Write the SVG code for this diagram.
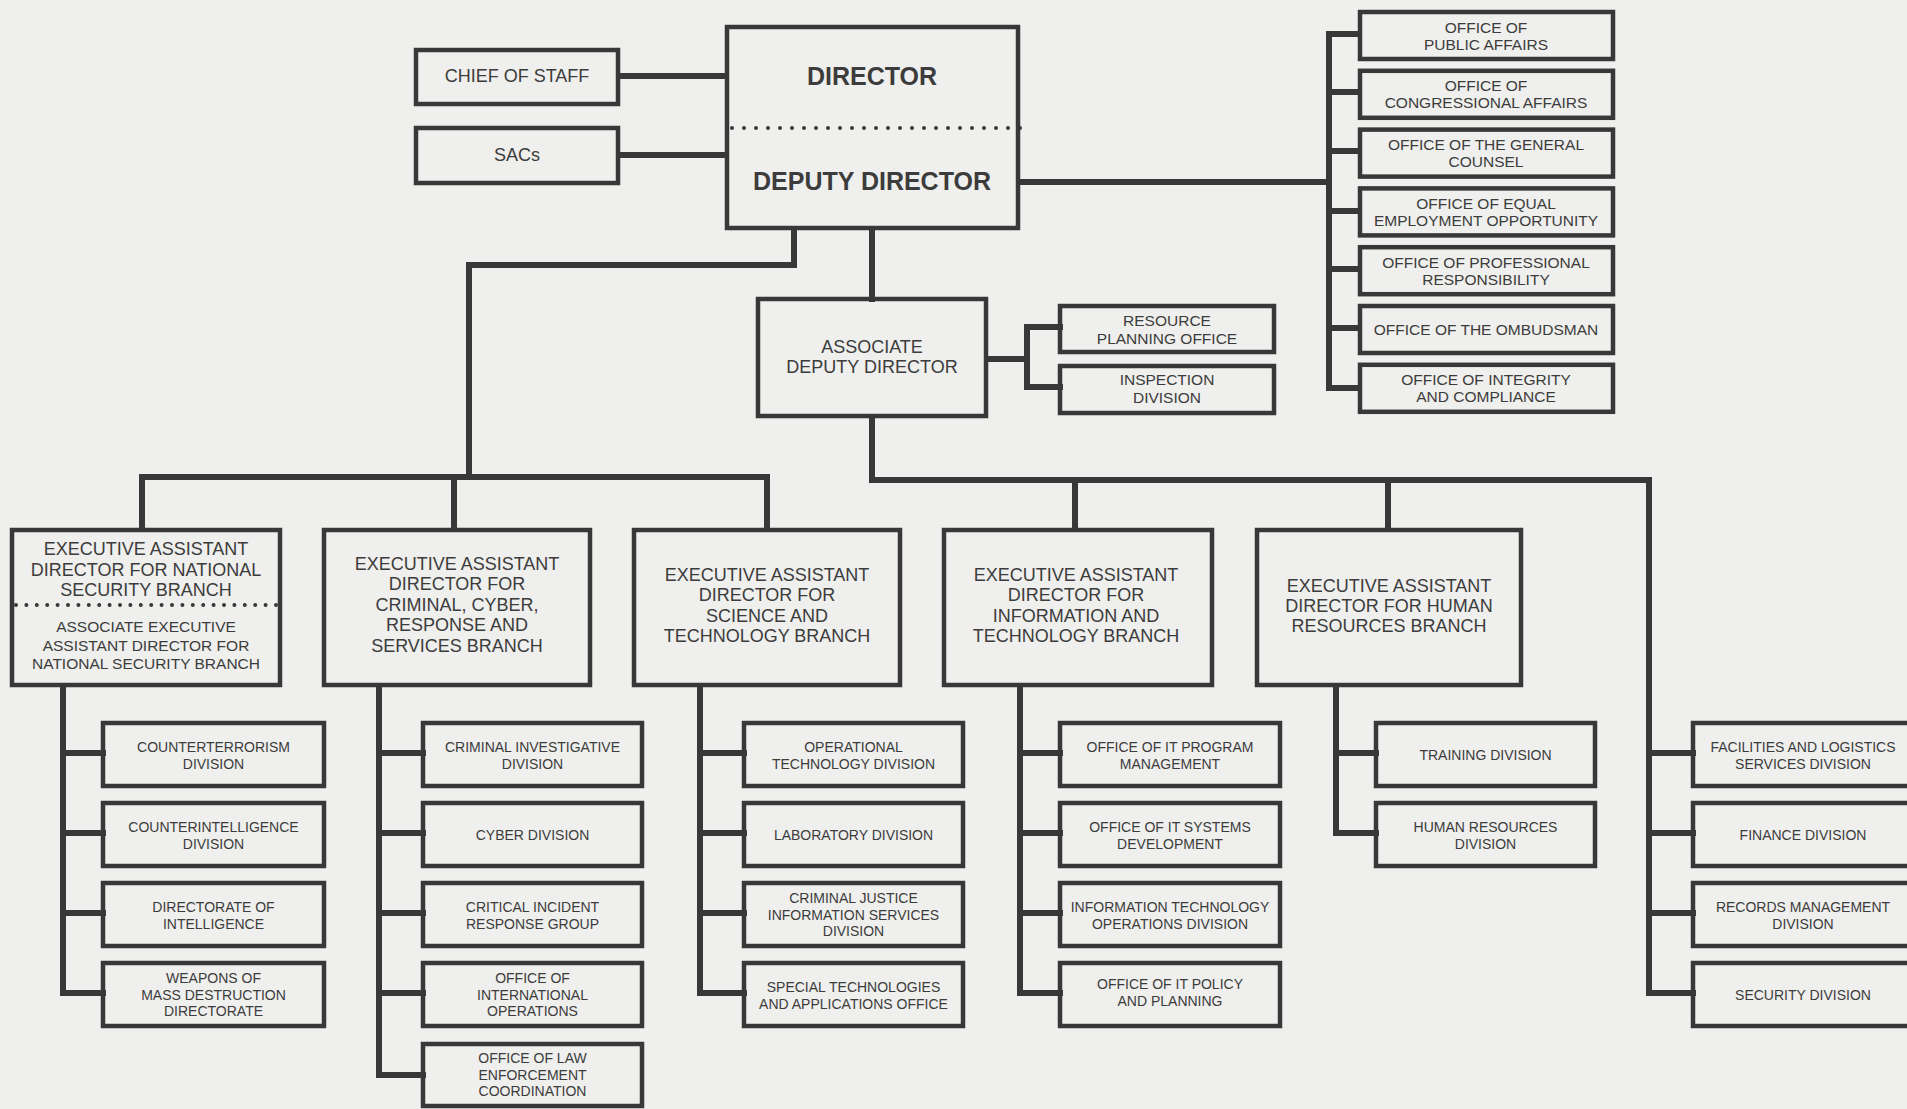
<svg xmlns="http://www.w3.org/2000/svg" width="1907" height="1109" viewBox="0 0 1907 1109">
<style>
.bg{fill:#efefed}
.box{fill:none;stroke:#383838;stroke-width:4.5}
.ln{fill:none;stroke:#383838;stroke-width:6;stroke-linejoin:miter;stroke-linecap:square}
.dots{fill:none;stroke:#383838;stroke-width:4;stroke-linecap:round}
text{font-family:"Liberation Sans",Arial,Helvetica,sans-serif;fill:#3c3c3c;text-anchor:middle}
.t18{font-size:18px}
.t15{font-size:15.5px}
.t14{font-size:14px}
.tb{font-size:25px;font-weight:bold}
</style>
<rect class="bg" x="0" y="0" width="1907" height="1109"/>

<g id="connectors">
  <path class="ln" d="M620 76 H725"/>
  <path class="ln" d="M620 155 H725"/>
  <path class="ln" d="M1020 182 H1329"/>
  <path class="ln" d="M1358 34 H1329 V388 H1358"/>
  <path class="ln" d="M1329 92 H1358 M1329 151 H1358 M1329 211 H1358 M1329 269 H1358 M1329 328 H1358"/>
  <path class="ln" d="M794 230 V265 H469 V477"/>
  <path class="ln" d="M142 528 V477 H767 V528"/>
  <path class="ln" d="M454 477 V528"/>
  <path class="ln" d="M872 230 V299"/>
  <path class="ln" d="M988 359 H1027"/>
  <path class="ln" d="M1060 327 H1027 V387 H1060"/>
  <path class="ln" d="M872 418 V480 H1649 V993 H1693"/>
  <path class="ln" d="M1075 480 V528 M1388 480 V528"/>
  <path class="ln" d="M1649 753 H1693 M1649 833 H1693 M1649 913 H1693"/>
  <path class="ln" d="M63 687 V993 H103 M63 753 H103 M63 833 H103 M63 913 H103"/>
  <path class="ln" d="M379 687 V1075 H423 M379 753 H423 M379 833 H423 M379 913 H423 M379 993 H423"/>
  <path class="ln" d="M700 687 V993 H744 M700 753 H744 M700 833 H744 M700 913 H744"/>
  <path class="ln" d="M1020 687 V993 H1060 M1020 753 H1060 M1020 833 H1060 M1020 913 H1060"/>
  <path class="ln" d="M1336 687 V833 H1376 M1336 753 H1376"/>
</g>

<g id="chief-of-staff"><rect class="box" x="416" y="50" width="202" height="54"/><text class="t18" x="517" y="82">CHIEF OF STAFF</text></g>
<g id="sacs"><rect class="box" x="416" y="128" width="202" height="55"/><text class="t18" x="517" y="161">SACs</text></g>
<g id="director"><rect class="box" x="727" y="27" width="291" height="201"/>
  <line class="dots" x1="732" y1="128" x2="1022" y2="128" stroke-dasharray="0 12"/>
  <text class="tb" x="872" y="85">DIRECTOR</text>
  <text class="tb" x="872" y="190">DEPUTY DIRECTOR</text></g>

<g id="office-public-affairs"><rect class="box" x="1360" y="12" width="253" height="47"/><text class="t15" x="1486" y="32.5">OFFICE OF</text><text class="t15" x="1486" y="49.5">PUBLIC AFFAIRS</text></g>
<g id="office-congressional-affairs"><rect class="box" x="1360" y="70.8" width="253" height="47"/><text class="t15" x="1486" y="91.3">OFFICE OF</text><text class="t15" x="1486" y="108.3">CONGRESSIONAL AFFAIRS</text></g>
<g id="office-general-counsel"><rect class="box" x="1360" y="129.6" width="253" height="47"/><text class="t15" x="1486" y="150.1">OFFICE OF THE GENERAL</text><text class="t15" x="1486" y="167.1">COUNSEL</text></g>
<g id="office-eeo"><rect class="box" x="1360" y="188.4" width="253" height="47"/><text class="t15" x="1486" y="208.9">OFFICE OF EQUAL</text><text class="t15" x="1486" y="225.9">EMPLOYMENT OPPORTUNITY</text></g>
<g id="office-professional-responsibility"><rect class="box" x="1360" y="247.2" width="253" height="47"/><text class="t15" x="1486" y="267.7">OFFICE OF PROFESSIONAL</text><text class="t15" x="1486" y="284.7">RESPONSIBILITY</text></g>
<g id="office-ombudsman"><rect class="box" x="1360" y="306" width="253" height="47"/><text class="t15" x="1486" y="335">OFFICE OF THE OMBUDSMAN</text></g>
<g id="office-integrity-compliance"><rect class="box" x="1360" y="364.8" width="253" height="47"/><text class="t15" x="1486" y="385.3">OFFICE OF INTEGRITY</text><text class="t15" x="1486" y="402.3">AND COMPLIANCE</text></g>

<g id="associate-deputy-director"><rect class="box" x="758" y="299" width="228" height="117"/><text class="t18" x="872" y="353">ASSOCIATE</text><text class="t18" x="872" y="373">DEPUTY DIRECTOR</text></g>
<g id="resource-planning-office"><rect class="box" x="1060" y="306" width="214" height="46"/><text class="t15" x="1167" y="326">RESOURCE</text><text class="t15" x="1167" y="344">PLANNING OFFICE</text></g>
<g id="inspection-division"><rect class="box" x="1060" y="366" width="214" height="47"/><text class="t15" x="1167" y="385">INSPECTION</text><text class="t15" x="1167" y="403">DIVISION</text></g>

<g id="ead-national-security"><rect class="box" x="12" y="530" width="268" height="155"/>
  <text class="t18" x="146" y="555">EXECUTIVE ASSISTANT</text><text class="t18" x="146" y="575.5">DIRECTOR FOR NATIONAL</text><text class="t18" x="146" y="596">SECURITY BRANCH</text>
  <line class="dots" x1="16" y1="605" x2="276" y2="605" stroke-dasharray="0 10.4"/>
  <text class="t15" x="146" y="632">ASSOCIATE EXECUTIVE</text><text class="t15" x="146" y="650.5">ASSISTANT DIRECTOR FOR</text><text class="t15" x="146" y="669">NATIONAL SECURITY BRANCH</text></g>
<g id="ead-criminal-cyber"><rect class="box" x="324" y="530" width="266" height="155"/>
  <text class="t18" x="457" y="569.5">EXECUTIVE ASSISTANT</text><text class="t18" x="457" y="590">DIRECTOR FOR</text><text class="t18" x="457" y="610.5">CRIMINAL, CYBER,</text><text class="t18" x="457" y="631">RESPONSE AND</text><text class="t18" x="457" y="652">SERVICES BRANCH</text></g>
<g id="ead-science-technology"><rect class="box" x="634" y="530" width="266" height="155"/>
  <text class="t18" x="767" y="580.5">EXECUTIVE ASSISTANT</text><text class="t18" x="767" y="601">DIRECTOR FOR</text><text class="t18" x="767" y="621.5">SCIENCE AND</text><text class="t18" x="767" y="642">TECHNOLOGY BRANCH</text></g>
<g id="ead-information-technology"><rect class="box" x="944" y="530" width="268" height="155"/>
  <text class="t18" x="1076" y="580.5">EXECUTIVE ASSISTANT</text><text class="t18" x="1076" y="601">DIRECTOR FOR</text><text class="t18" x="1076" y="621.5">INFORMATION AND</text><text class="t18" x="1076" y="642">TECHNOLOGY BRANCH</text></g>
<g id="ead-human-resources"><rect class="box" x="1257" y="530" width="264" height="155"/>
  <text class="t18" x="1389" y="591.5">EXECUTIVE ASSISTANT</text><text class="t18" x="1389" y="611.5">DIRECTOR FOR HUMAN</text><text class="t18" x="1389" y="631.5">RESOURCES BRANCH</text></g>

<g id="counterterrorism-division"><rect class="box" x="103" y="723" width="221" height="63"/><text class="t14" x="213.5" y="752">COUNTERTERRORISM</text><text class="t14" x="213.5" y="768.5">DIVISION</text></g>
<g id="counterintelligence-division"><rect class="box" x="103" y="803" width="221" height="63"/><text class="t14" x="213.5" y="832">COUNTERINTELLIGENCE</text><text class="t14" x="213.5" y="848.5">DIVISION</text></g>
<g id="directorate-of-intelligence"><rect class="box" x="103" y="883" width="221" height="63"/><text class="t14" x="213.5" y="912">DIRECTORATE OF</text><text class="t14" x="213.5" y="928.5">INTELLIGENCE</text></g>
<g id="wmd-directorate"><rect class="box" x="103" y="963" width="221" height="63"/><text class="t14" x="213.5" y="983">WEAPONS OF</text><text class="t14" x="213.5" y="999.5">MASS DESTRUCTION</text><text class="t14" x="213.5" y="1016">DIRECTORATE</text></g>

<g id="criminal-investigative-division"><rect class="box" x="423" y="723" width="219" height="63"/><text class="t14" x="532.5" y="752">CRIMINAL INVESTIGATIVE</text><text class="t14" x="532.5" y="768.5">DIVISION</text></g>
<g id="cyber-division"><rect class="box" x="423" y="803" width="219" height="63"/><text class="t14" x="532.5" y="839.5">CYBER DIVISION</text></g>
<g id="critical-incident-response-group"><rect class="box" x="423" y="883" width="219" height="63"/><text class="t14" x="532.5" y="912">CRITICAL INCIDENT</text><text class="t14" x="532.5" y="928.5">RESPONSE GROUP</text></g>
<g id="office-international-operations"><rect class="box" x="423" y="963" width="219" height="63"/><text class="t14" x="532.5" y="983">OFFICE OF</text><text class="t14" x="532.5" y="999.5">INTERNATIONAL</text><text class="t14" x="532.5" y="1016">OPERATIONS</text></g>
<g id="office-law-enforcement-coordination"><rect class="box" x="423" y="1044" width="219" height="62"/><text class="t14" x="532.5" y="1063">OFFICE OF LAW</text><text class="t14" x="532.5" y="1079.5">ENFORCEMENT</text><text class="t14" x="532.5" y="1096">COORDINATION</text></g>

<g id="operational-technology-division"><rect class="box" x="744" y="723" width="219" height="63"/><text class="t14" x="853.5" y="752">OPERATIONAL</text><text class="t14" x="853.5" y="768.5">TECHNOLOGY DIVISION</text></g>
<g id="laboratory-division"><rect class="box" x="744" y="803" width="219" height="63"/><text class="t14" x="853.5" y="839.5">LABORATORY DIVISION</text></g>
<g id="cjis-division"><rect class="box" x="744" y="883" width="219" height="63"/><text class="t14" x="853.5" y="903">CRIMINAL JUSTICE</text><text class="t14" x="853.5" y="919.5">INFORMATION SERVICES</text><text class="t14" x="853.5" y="936">DIVISION</text></g>
<g id="special-technologies-office"><rect class="box" x="744" y="963" width="219" height="63"/><text class="t14" x="853.5" y="992">SPECIAL TECHNOLOGIES</text><text class="t14" x="853.5" y="1008.5">AND APPLICATIONS OFFICE</text></g>

<g id="office-it-program-management"><rect class="box" x="1060" y="723" width="220" height="63"/><text class="t14" x="1170" y="752">OFFICE OF IT PROGRAM</text><text class="t14" x="1170" y="768.5">MANAGEMENT</text></g>
<g id="office-it-systems-development"><rect class="box" x="1060" y="803" width="220" height="63"/><text class="t14" x="1170" y="832">OFFICE OF IT SYSTEMS</text><text class="t14" x="1170" y="848.5">DEVELOPMENT</text></g>
<g id="it-operations-division"><rect class="box" x="1060" y="883" width="220" height="63"/><text class="t14" x="1170" y="912">INFORMATION TECHNOLOGY</text><text class="t14" x="1170" y="928.5">OPERATIONS DIVISION</text></g>
<g id="office-it-policy-planning"><rect class="box" x="1060" y="963" width="220" height="63"/><text class="t14" x="1170" y="989">OFFICE OF IT POLICY</text><text class="t14" x="1170" y="1005.5">AND PLANNING</text></g>

<g id="training-division"><rect class="box" x="1376" y="723" width="219" height="63"/><text class="t14" x="1485.5" y="759.5">TRAINING DIVISION</text></g>
<g id="human-resources-division"><rect class="box" x="1376" y="803" width="219" height="63"/><text class="t14" x="1485.5" y="832">HUMAN RESOURCES</text><text class="t14" x="1485.5" y="848.5">DIVISION</text></g>

<g id="facilities-logistics-division"><rect class="box" x="1693" y="723" width="220" height="63"/><text class="t14" x="1803" y="752">FACILITIES AND LOGISTICS</text><text class="t14" x="1803" y="768.5">SERVICES DIVISION</text></g>
<g id="finance-division"><rect class="box" x="1693" y="803" width="220" height="63"/><text class="t14" x="1803" y="839.5">FINANCE DIVISION</text></g>
<g id="records-management-division"><rect class="box" x="1693" y="883" width="220" height="63"/><text class="t14" x="1803" y="912">RECORDS MANAGEMENT</text><text class="t14" x="1803" y="928.5">DIVISION</text></g>
<g id="security-division"><rect class="box" x="1693" y="963" width="220" height="63"/><text class="t14" x="1803" y="999.5">SECURITY DIVISION</text></g>
</svg>
